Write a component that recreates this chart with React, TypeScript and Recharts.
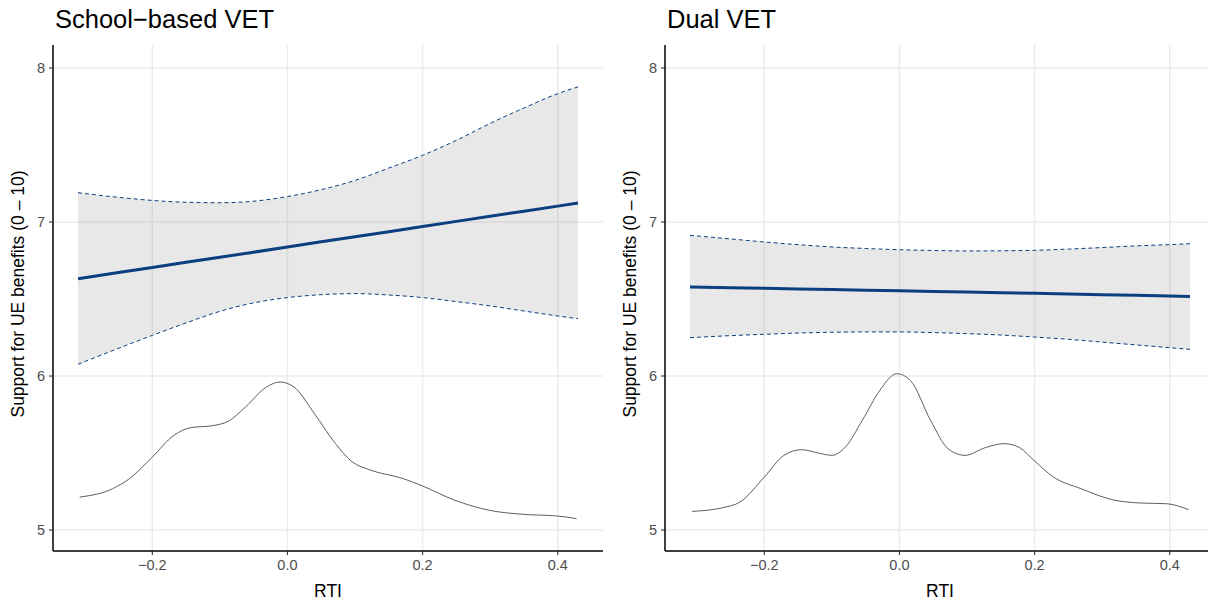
import React from 'react';
import { ComposedChart, Line, Area, XAxis, YAxis, CartesianGrid } from 'recharts';

// x grid used for the fitted line and its confidence band
const ciX = [-0.31, -0.25, -0.2, -0.15, -0.1, -0.05, 0, 0.05, 0.1, 0.15, 0.2, 0.25, 0.3, 0.35, 0.4, 0.43];

// School-based VET
const schoolFit = [6.632, 6.672, 6.705, 6.738, 6.771, 6.804, 6.838, 6.871, 6.904, 6.937, 6.971, 7.004, 7.037, 7.07, 7.103, 7.123];
const schoolUpper = [7.19, 7.16, 7.14, 7.128, 7.125, 7.135, 7.165, 7.21, 7.27, 7.35, 7.433, 7.53, 7.64, 7.74, 7.833, 7.877];
const schoolLower = [6.076, 6.18, 6.264, 6.345, 6.42, 6.475, 6.509, 6.528, 6.535, 6.526, 6.509, 6.483, 6.455, 6.422, 6.39, 6.372];
const schoolDensX = [-0.3075, -0.259, -0.234, -0.2, -0.168, -0.143, -0.112, -0.087, -0.062, -0.031, -0.011, 0.0095, 0.04, 0.071, 0.096, 0.121, 0.172, 0.2, 0.248, 0.299, 0.349, 0.4, 0.428];
const schoolDens = [5.214, 5.268, 5.333, 5.474, 5.615, 5.665, 5.677, 5.708, 5.799, 5.929, 5.961, 5.929, 5.755, 5.561, 5.442, 5.392, 5.333, 5.286, 5.193, 5.128, 5.102, 5.091, 5.074];

// Dual VET
const dualFit = [6.578, 6.573, 6.569, 6.565, 6.561, 6.557, 6.553, 6.549, 6.545, 6.541, 6.537, 6.532, 6.528, 6.524, 6.52, 6.517];
const dualUpper = [6.913, 6.89, 6.87, 6.853, 6.838, 6.828, 6.82, 6.815, 6.812, 6.813, 6.816, 6.824, 6.834, 6.845, 6.853, 6.859];
const dualLower = [6.249, 6.262, 6.271, 6.279, 6.284, 6.286, 6.286, 6.282, 6.275, 6.266, 6.253, 6.238, 6.22, 6.202, 6.184, 6.173];
const dualDensX = [-0.307, -0.262, -0.236, -0.2, -0.171, -0.145, -0.12, -0.1, -0.08, -0.055, -0.029, -0.004, 0.016, 0.046, 0.072, 0.097, 0.127, 0.155, 0.178, 0.199, 0.228, 0.269, 0.319, 0.36, 0.395, 0.428];
const dualDens = [5.121, 5.145, 5.182, 5.344, 5.485, 5.522, 5.5, 5.485, 5.539, 5.712, 5.907, 6.015, 5.972, 5.712, 5.528, 5.485, 5.535, 5.561, 5.535, 5.452, 5.344, 5.268, 5.193, 5.175, 5.171, 5.132];

const xTicks = [-0.2, 0, 0.2, 0.4];
const yTicks = [5, 6, 7, 8];

const FONT = '"Liberation Sans", Arial, Helvetica, sans-serif';
const NAVY = '#0B3F7F';

const fmtX = (v: number) => (v < 0 ? '\u2212' : '') + Math.abs(v).toFixed(1);

interface PanelProps {
  title: string;
  left: number;
  fit: number[];
  upper: number[];
  lower: number[];
  densX: number[];
  dens: number[];
}

const Panel = ({ title, left, fit, upper, lower, densX, dens }: PanelProps) => {
  const ci = ciX.map((x, i) => ({ x, fit: fit[i], lo: lower[i], hi: upper[i], band: [lower[i], upper[i]] }));
  const density = densX.map((x, i) => ({ x, d: dens[i] }));
  return (
    <div style={{ position: 'absolute', left, top: 0, width: 612, height: 603 }}>
      <div style={{ position: 'absolute', left: 55, top: 7, fontSize: 25.5, lineHeight: '25.5px', color: '#000', whiteSpace: 'nowrap' }}>
        {title}
      </div>
      <ComposedChart width={612} height={603} margin={{ top: 45, right: 9, bottom: 4, left: 0 }}>
        <CartesianGrid stroke="#EBEBEB" strokeWidth={1.4} syncWithTicks />
        <XAxis
          type="number"
          dataKey="x"
          domain={[-0.347, 0.467]}
          ticks={xTicks}
          tickFormatter={fmtX}
          height={48}
          tickSize={4}
          tickMargin={5}
          axisLine={{ stroke: '#000', strokeWidth: 1.5 }}
          tickLine={{ stroke: '#333', strokeWidth: 1.1 }}
          tick={{ fill: '#4D4D4D', fontSize: 14.5, fontFamily: FONT }}
          label={{ value: 'RTI', position: 'insideBottom', offset: 2, fill: '#000', fontSize: 17.5, fontFamily: FONT }}
        />
        <YAxis
          type="number"
          domain={[4.864, 8.149]}
          ticks={yTicks}
          width={53}
          tickSize={4}
          tickMargin={4}
          axisLine={{ stroke: '#000', strokeWidth: 1.5 }}
          tickLine={{ stroke: '#333', strokeWidth: 1.1 }}
          tick={{ fill: '#4D4D4D', fontSize: 14.5, fontFamily: FONT }}
          label={{
            content: ({ viewBox }: any) => (
              <text
                transform={`translate(${viewBox.x + 18}, ${viewBox.y + viewBox.height / 2 - 4}) rotate(-90)`}
                textAnchor="middle"
                dominantBaseline="central"
                fontSize={17.5}
                fontFamily={FONT}
                fill="#000"
              >
                Support for UE benefits (0 – 10)
              </text>
            ),
          }}
        />
        <Area data={ci} dataKey="band" type="monotone" stroke="none" fill="#8c8c8c" fillOpacity={0.2} isAnimationActive={false} activeDot={false} />
        <Line data={density} dataKey="d" type="monotone" stroke="#5E5E5E" strokeWidth={1} dot={false} activeDot={false} isAnimationActive={false} />
        <Line data={ci} dataKey="hi" type="monotone" stroke={NAVY} strokeWidth={1} strokeDasharray="4 3" dot={false} activeDot={false} isAnimationActive={false} />
        <Line data={ci} dataKey="lo" type="monotone" stroke={NAVY} strokeWidth={1} strokeDasharray="4 3" dot={false} activeDot={false} isAnimationActive={false} />
        <Line data={ci} dataKey="fit" type="linear" stroke={NAVY} strokeWidth={3} dot={false} activeDot={false} isAnimationActive={false} />
      </ComposedChart>
    </div>
  );
};

export default function App() {
  return (
    <div style={{ position: 'absolute', left: 0, top: 0, width: 1208, height: 603, overflow: 'hidden', background: '#fff', fontFamily: FONT }}>
      <Panel title={'School\u2212based VET'} left={0} fit={schoolFit} upper={schoolUpper} lower={schoolLower} densX={schoolDensX} dens={schoolDens} />
      <Panel title="Dual VET" left={612} fit={dualFit} upper={dualUpper} lower={dualLower} densX={dualDensX} dens={dualDens} />
    </div>
  );
}
